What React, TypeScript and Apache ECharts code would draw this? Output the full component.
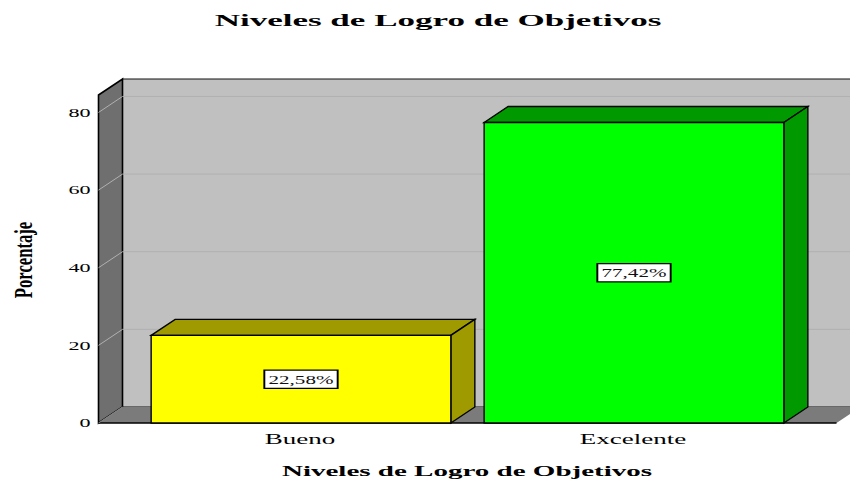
import React, { useEffect, useRef } from "react";
import * as echarts from "echarts";

const chartTitle = "Niveles de Logro de Objetivos";
const xTitle = "Niveles de Logro de Objetivos";
const yTitle = "Porcentaje";
const categories = ["Bueno", "Excelente"];
const values = [22.58, 77.42];
const valueLabels = ["22,58%", "77,42%"];
const yTicks = [0, 20, 40, 60, 80];
const faceColors = ["#ffff00", "#00ff00"];
const sideColors = ["#9e9a00", "#009900"];

const DX = 24;
const DY = 16;
const PAD = 36;
const FONT = "'Liberation Serif', serif";

function wallItem(params: any) {
  const c = params.coordSys;
  const l = c.x - PAD;
  const r = c.x + c.width + PAD;
  const t = c.y;
  const b = c.y + c.height;
  const line = { stroke: "#000", lineWidth: 1.6 };
  return {
    type: "group",
    children: [
      { type: "rect", shape: { x: l + DX, y: t - DY, width: r - l, height: b - t }, style: { fill: "#c0c0c0", stroke: "#111", lineWidth: 1 } },
      { type: "polygon", shape: { points: [[l, b], [l + DX, b - DY], [l + DX, t - DY], [l, t]] }, style: { fill: "#6f6f6f", ...line } },
      { type: "polygon", shape: { points: [[l, b], [l + DX, b - DY], [r + DX, b - DY], [r, b]] }, style: { fill: "#7b7b7b" } },
      { type: "line", shape: { x1: l, y1: b, x2: r, y2: b }, style: line },
    ],
  };
}

function gridItem(params: any, api: any) {
  const c = params.coordSys;
  const l = c.x - PAD;
  const r = c.x + c.width + PAD;
  const v = api.value(0);
  const y = api.coord([0, v])[1];
  const tickLabel = {
    type: "text",
    x: l - 8,
    y: y,
    scaleX: 1.7,
    style: { text: String(v), font: `13px ${FONT}`, fill: "#000", align: "right", verticalAlign: "middle" },
  };
  const children: any[] = [tickLabel];
  if (v !== 0) {
    children.push(
      { type: "polyline", shape: { points: [[l, y], [l + DX, y - DY], [r + DX, y - DY]] }, style: { fill: "none", stroke: "#b0b0b0", lineWidth: 1 } },
    );
  } else {
    children.push({ type: "line", shape: { x1: l, y1: y, x2: l + DX, y2: y - DY }, style: { stroke: "#8c8c8c", lineWidth: 1 } });
  }
  return { type: "group", children };
}

function barItem(params: any, api: any) {
  const i = api.value(0);
  const v = api.value(1);
  const [cx, top] = api.coord([i, v]);
  const [, bottom] = api.coord([i, 0]);
  const w = api.size([1, 0])[0] * 0.9;
  const l = cx - w / 2;
  const r = cx + w / 2;
  const edge = { stroke: "#000", lineWidth: 1.4 };
  const side = sideColors[i];
  return {
    type: "group",
    children: [
      { type: "polygon", shape: { points: [[l, top], [l + DX, top - DY], [r + DX, top - DY], [r, top]] }, style: { fill: side, ...edge } },
      { type: "polygon", shape: { points: [[r, top], [r + DX, top - DY], [r + DX, bottom - DY], [r, bottom]] }, style: { fill: side, ...edge } },
      { type: "rect", shape: { x: l, y: top, width: w, height: bottom - top }, style: { fill: faceColors[i], ...edge } },
      {
        type: "text",
        x: cx,
        y: (top + bottom) / 2,
        scaleX: 1.62,
        style: {
          text: valueLabels[i],
          font: `13px ${FONT}`,
          fill: "#111",
          align: "center",
          verticalAlign: "middle",
          backgroundColor: "#fff",
          borderColor: "#000",
          borderWidth: 1.2,
          padding: [2, 2],
        },
      },
      {
        type: "text",
        x: cx - 1,
        y: bottom + 16,
        scaleX: 1.93,
        style: { text: categories[i], font: `14px ${FONT}`, fill: "#000", align: "center", verticalAlign: "middle" },
      },
    ],
  };
}

export default function App() {
  const ref = useRef<HTMLDivElement>(null);
  useEffect(() => {
    const chart = echarts.init(ref.current!, undefined, { renderer: "svg" });
    chart.setOption({
      animation: false,
      backgroundColor: "#fff",
      grid: { left: 134.5, width: 666, top: 95, height: 328, containLabel: false },
      xAxis: { type: "category", data: categories, axisLine: { show: false }, axisTick: { show: false }, axisLabel: { show: false }, splitLine: { show: false } },
      yAxis: { type: "value", min: 0, max: 84.5, interval: 20, axisLine: { show: false }, axisTick: { show: false }, axisLabel: { show: false }, splitLine: { show: false } },
      series: [
        { type: "custom", clip: false, silent: true, z: 1, renderItem: wallItem, data: [[0, 0]], encode: { x: 0, y: 1 } },
        { type: "custom", clip: false, silent: true, z: 2, renderItem: gridItem, data: yTicks.map((t) => [t]), encode: { y: 0 } },
        { type: "custom", clip: false, silent: true, z: 3, renderItem: barItem, data: values.map((v, i) => [i, v]), encode: { x: 0, y: 1 } },
      ],
      graphic: [
        { type: "text", x: 438, y: 21, scaleX: 2.19, style: { text: chartTitle, font: `bold 16px ${FONT}`, fill: "#000", align: "center", verticalAlign: "middle" } },
        { type: "text", x: 467, y: 471, scaleX: 1.935, style: { text: xTitle, font: `bold 15px ${FONT}`, fill: "#000", align: "center", verticalAlign: "middle" } },
        { type: "text", x: 24, y: 260, rotation: Math.PI / 2, scaleX: 0.64, style: { text: yTitle, font: `bold 26px ${FONT}`, fill: "#000", align: "center", verticalAlign: "middle" } },
      ],
    });
    return () => chart.dispose();
  }, []);
  return <div ref={ref} style={{ position: "absolute", left: 0, top: 0, width: 850, height: 481 }} />;
}
